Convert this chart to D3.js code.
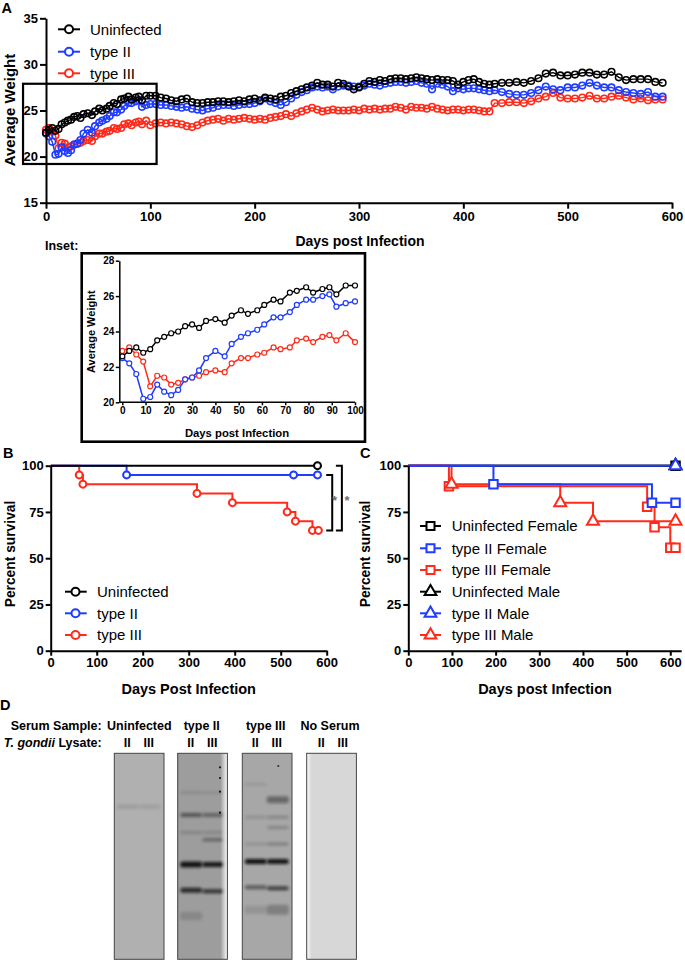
<!DOCTYPE html>
<html><head><meta charset="utf-8">
<script src="https://cdn.jsdelivr.net/npm/d3@7"></script>
<style>body{margin:0;background:#fff} svg text{font-family:"Liberation Sans",Arial,sans-serif}</style>
</head><body>
<svg id="c" width="685" height="962"></svg>
<script>
// ---------- DATA ----------
const weightDays = [0,3,6,9,12,15,18,21,24,27,30,33,36,40,44,47,51,54,58,61,65,68,72,75,79,82,86,89,92,96,100,
105,110,115,120,125,130,135,140,145,150,155,160,165,170,175,180,185,190,195,200,
205,210,215,220,225,230,235,240,245,250,255,260,265,270,275,280,285,290,295,300,
305,310,315,320,325,330,335,340,345,350,355,360,365,370,375,380,385,390,395,400,
405,410,415,420,425,430,
437,444,451,458,465,472,479,486,493,500,507,514,521,528,535,542,549,556,563,570,577,584,591];
const uninfectedWeight = [22.6,22.9,23.1,22.8,23.0,23.5,23.7,23.9,24.0,24.3,24.4,24.2,24.6,24.7,24.5,24.9,25.2,25.0,25.2,25.5,25.8,25.7,26.2,26.3,26.5,26.2,26.4,26.5,26.1,26.6,26.6,
26.6,26.4,26.3,26.1,26.0,26.2,26.3,25.9,25.8,25.8,25.9,25.9,26.0,26.0,25.9,26.0,26.1,26.0,26.2,26.3,
26.1,26.4,26.3,26.2,26.5,26.6,26.9,27.1,27.3,27.5,27.7,28.0,27.8,27.8,27.6,28.0,27.9,27.6,27.3,27.5,
27.9,28.2,28.1,28.3,28.2,28.4,28.5,28.5,28.4,28.5,28.6,28.5,28.4,28.3,28.4,28.3,28.3,28.2,27.8,28.1,
28.3,28.4,28.1,27.9,27.8,27.9,
28.0,28.0,28.1,28.0,28.2,28.5,29.0,29.1,28.8,28.8,28.9,29.1,29.1,28.9,28.9,29.2,28.6,28.3,28.4,28.4,28.4,28.1,28.0];
const typeIIWeight = [22.5,22.2,21.6,20.2,20.3,21.0,20.6,20.4,20.7,21.3,21.4,21.8,22.5,22.9,22.6,23.3,23.7,23.9,24.1,24.4,24.8,24.8,25.1,25.5,25.8,25.8,26.0,26.1,25.4,25.6,25.7,
25.7,25.6,25.6,25.5,25.4,25.3,25.4,25.2,25.1,25.0,25.2,25.3,25.5,25.6,25.6,25.5,25.6,25.7,25.7,25.8,
26.0,26.3,26.0,25.8,25.6,25.9,26.3,26.7,27.0,27.2,27.5,27.6,27.5,27.6,27.3,27.6,27.7,27.7,27.6,27.6,
27.7,27.9,27.8,27.7,27.9,28.0,28.1,28.1,28.0,28.1,28.2,28.0,27.9,27.3,27.9,27.8,27.6,27.1,27.4,27.3,
27.4,27.4,27.3,27.2,27.1,27.2,
27.0,26.8,26.7,26.7,26.9,27.2,27.6,27.3,27.2,27.5,27.5,27.7,28.0,27.7,27.5,27.5,27.2,27.0,26.9,26.8,27.0,26.5,26.5];
const typeIIIWeight = [22.9,23.1,22.7,22.3,20.9,21.5,21.4,21.0,21.1,21.3,21.4,21.5,21.7,21.8,21.7,22.2,22.5,22.5,22.7,22.8,23.1,23.0,23.1,23.5,23.6,23.4,23.7,23.8,23.5,23.9,23.4,
23.6,23.7,23.6,23.7,23.6,23.5,23.3,23.2,23.4,23.7,23.9,24.0,24.1,23.9,24.1,24.0,24.1,24.2,24.1,24.0,
24.1,24.0,24.2,24.3,24.4,24.6,24.4,24.7,24.9,25.1,25.3,25.1,24.9,25.0,25.1,25.0,25.0,25.0,25.1,25.0,
25.2,25.1,25.2,25.1,25.2,25.2,25.4,25.3,25.1,25.4,25.3,25.3,25.2,25.4,25.2,25.1,25.0,25.1,25.1,25.0,
25.1,25.1,25.0,24.9,24.9,25.8,
25.8,25.9,25.9,25.8,26.0,26.3,26.5,26.9,26.4,26.3,26.3,26.4,26.6,26.3,26.3,26.5,26.6,26.4,26.2,26.3,26.1,26.2,26.2];

const weightSeriesNames = ["Uninfected","type II","type III"];
const mainYTicks = [15,20,25,30,35];
const mainXTicks = [0,100,200,300,400,500,600];
const insetYTicks = [20,22,24,26,28];
const insetXTicks = [0,10,20,30,40,50,60,70,80,90,100];
const insetBoxDays = [-22,106];
const insetBoxWeights = [19.2,27.9];

// Survival, panel B: [day, percent]
const survUninfB = [[0,100],[580,100]];
const survTypeIIB = [[0,100],[165,95],[580,95]];
const survTypeIIIB = [[0,100],[62,95],[70,90],[318,85],[395,80],[514,75],[532,70],[569,65],[582,65]];
const markUninfB = [[580,100]];
const markTypeIIB = [[165,95],[528,95],[580,95]];
const markTypeIIIB = [[62,95],[70,90],[318,85],[395,80],[514,75],[532,70],[569,65],[582,65]];

// Survival, panel C
const survUninfF = [[0,100],[612,100]];
const survTypeIIF = [[0,100],[195,90],[558,80],[612,80]];
const survTypeIIIF = [[0,100],[93,88.9],[547,77.8],[564,66.7],[600,55.6],[612,55.6]];
const survUninfM = [[0,100],[612,100]];
const survTypeIIM = [[0,100],[612,100]];
const survTypeIIIM = [[0,100],[99,90],[348,80],[423,70],[612,70]];
const survNamesC = ["Uninfected Female","type II Female","type III Female","Uninfected Male","type II Male","type III Male"];
const survTicksY = [0,25,50,75,100];
const survTicksX = [0,100,200,300,400,500,600];

// Western blot panel D
const serumSamples = ["Uninfected","type II","type III","No Serum"];
const lysateLanes = ["II","III"];
// bands per blot: [fraction down blot, lane(0=II,1=III), darkness, thickness]
const bandsBlot = [
  [[0.26,0,0.12,4],[0.26,1,0.1,4]],
  [[0.19,0,0.12,3],[0.19,1,0.1,3],[0.30,0,0.5,4],[0.30,1,0.4,4],[0.385,0,0.18,3],[0.385,1,0.16,3],[0.42,1,0.42,3],
   [0.54,0,0.95,6],[0.54,1,0.92,5],[0.665,0,0.8,5],[0.67,1,0.75,4],[0.79,0,0.15,8]],
  [[0.15,0,0.1,3],[0.225,1,0.4,7],[0.31,0,0.15,3],[0.31,1,0.22,3],[0.36,1,0.22,3],[0.44,0,0.15,3],[0.44,1,0.28,3],
   [0.525,0,0.97,5],[0.525,1,0.95,5],[0.65,0,0.5,4],[0.655,1,0.68,4],[0.76,0,0.12,8],[0.76,1,0.25,10]],
  []
];
const blotBg = ["#b0b0b0","#9d9d9d","#a7a7a7","#d7d7d7"];

// ---------- DRAW ----------
const svg = d3.select("#c");
const FONT = '"Liberation Sans",Arial,sans-serif';
const colors = {"Uninfected":"#000","type II":"#1f3cff","type III":"#ff2a1a"};
const colC = ["#000","#1f3cff","#ff2a1a","#000","#1f3cff","#ff2a1a"];

function styleAxis(g, sw, fs){
  g.attr("font-family",FONT).attr("font-size",fs).attr("font-weight","bold");
  g.select(".domain").attr("stroke-width",sw).attr("stroke","#000");
  g.selectAll(".tick line").attr("stroke-width",sw).attr("stroke","#000");
  g.selectAll(".tick text").attr("fill","#000");
}
function txt(x,y,s,opt={}){
  const t = svg.append("text").attr("x",x).attr("y",y).text(s)
    .attr("font-size",opt.size||12).attr("font-weight",opt.weight||"bold")
    .attr("text-anchor",opt.anchor||"start").attr("fill",opt.fill||"#000");
  if(opt.rotate) t.attr("transform",`rotate(-90,${x},${y})`);
  return t;
}

// ---- Panel A main ----
txt(1.5,12.5,"A",{size:14.5});
const xA = d3.scaleLinear().domain([0,600]).range([46,672]);
const yA = d3.scaleLinear().domain([15,35]).range([202.7,18.3]);
const series = [
  {name:"type III", vals:typeIIIWeight},
  {name:"type II", vals:typeIIWeight},
  {name:"Uninfected", vals:uninfectedWeight}
];
const gA = svg.append("g");
series.forEach(s=>{
  const pts = weightDays.map((d,i)=>[d,s.vals[i]]);
  gA.append("path").attr("d",d3.line().x(d=>xA(d[0])).y(d=>yA(d[1]))(pts))
    .attr("fill","none").attr("stroke",colors[s.name]).attr("stroke-width",1.4);
  gA.selectAll(null).data(pts).join("circle")
    .attr("cx",d=>xA(d[0])).attr("cy",d=>yA(d[1])).attr("r",3.3)
    .attr("fill","none").attr("stroke",colors[s.name]).attr("stroke-width",1.6);
});
const axYA = svg.append("g").attr("transform","translate(46,0)")
  .call(d3.axisLeft(yA).tickValues(mainYTicks).tickSize(6).tickSizeOuter(0).tickPadding(2));
styleAxis(axYA,2,13);
const axXA = svg.append("g").attr("transform","translate(0,202.7)")
  .call(d3.axisBottom(xA).tickValues(mainXTicks).tickSize(6).tickSizeOuter(0).tickPadding(3));
styleAxis(axXA,2,13);
txt(10,110,"Average Weight",{size:15,anchor:"middle",rotate:true}).attr("dy","0.35em");
txt(360,246,"Days post Infection",{size:14,anchor:"middle"});
// inset indicator box
svg.append("rect").attr("x",xA(insetBoxDays[0])).attr("y",yA(insetBoxWeights[1]))
  .attr("width",xA(insetBoxDays[1])-xA(insetBoxDays[0])).attr("height",yA(insetBoxWeights[0])-yA(insetBoxWeights[1]))
  .attr("fill","none").attr("stroke","#000").attr("stroke-width",2.2);
// legend A
weightSeriesNames.forEach((n,i)=>{
  const y = [29.3,51.7,73.3][i];
  svg.append("line").attr("x1",58).attr("x2",80).attr("y1",y).attr("y2",y).attr("stroke",colors[n]).attr("stroke-width",2);
  svg.append("circle").attr("cx",69).attr("cy",y).attr("r",4).attr("fill","#fff").attr("stroke",colors[n]).attr("stroke-width",2);
  txt(90,y,n,{size:15,weight:"normal"}).attr("dy","0.35em");
});

// ---- Inset ----
txt(45,250,"Inset:",{size:12.5});
svg.append("rect").attr("x",81.7).attr("y",253.3).attr("width",283.3).attr("height",188.4)
  .attr("fill","none").attr("stroke","#000").attr("stroke-width",2.6);
const xI = d3.scaleLinear().domain([0,100]).range([122.3,355]);
const yI = d3.scaleLinear().domain([20,28]).range([402.3,260.7]);
const gI = svg.append("g");
series.forEach(s=>{
  const pts = weightDays.map((d,i)=>[d,s.vals[i]]).filter(p=>p[0]<=100);
  gI.append("path").attr("d",d3.line().x(d=>xI(d[0])).y(d=>yI(d[1]))(pts))
    .attr("fill","none").attr("stroke",colors[s.name]).attr("stroke-width",1.5);
  gI.selectAll(null).data(pts).join("circle")
    .attr("cx",d=>xI(d[0])).attr("cy",d=>yI(d[1])).attr("r",2.5)
    .attr("fill","#fff").attr("stroke",colors[s.name]).attr("stroke-width",1.2);
});
const axYI = svg.append("g").attr("transform","translate(119.3,0)")
  .call(d3.axisLeft(yI).tickValues(insetYTicks).tickSize(3.5).tickSizeOuter(0).tickPadding(1.5));
styleAxis(axYI,1.5,10);
const axXI = svg.append("g").attr("transform","translate(0,402.3)")
  .call(d3.axisBottom(xI).tickValues(insetXTicks).tickSize(3).tickSizeOuter(0).tickPadding(2));
styleAxis(axXI,1.5,10);
axXI.select(".domain").remove();
svg.append("line").attr("x1",119.3).attr("x2",xI(100)).attr("y1",402.3).attr("y2",402.3).attr("stroke","#000").attr("stroke-width",1.5);
txt(91.5,331.7,"Average Weight",{size:11,anchor:"middle",rotate:true}).attr("dy","0.35em");
txt(237,436.5,"Days post Infection",{size:11.3,anchor:"middle"});

// ---- Survival helper ----
function kmPanel(xS,yS,list){
  const g = svg.append("g");
  list.forEach(s=>{
    g.append("path").attr("d",d3.line().curve(d3.curveStepAfter).x(d=>xS(d[0])).y(d=>yS(d[1]))(s.steps))
      .attr("fill","none").attr("stroke",s.color).attr("stroke-width",2);
  });
  list.forEach(s=>{
    const sym = d3.symbol().type(s.shape).size(s.size);
    g.selectAll(null).data(s.marks).join("path")
      .attr("d",sym).attr("transform",d=>`translate(${xS(d[0])},${yS(d[1])})`)
      .attr("fill","#fff").attr("stroke",s.color).attr("stroke-width",2);
  });
  const ay = svg.append("g").attr("transform",`translate(${xS(0)},0)`)
    .call(d3.axisLeft(yS).tickValues(survTicksY).tickSize(5).tickSizeOuter(0).tickPadding(2));
  styleAxis(ay,2,13);
  const ax = svg.append("g").attr("transform",`translate(0,${yS(0)})`)
    .call(d3.axisBottom(xS).tickValues(survTicksX).tickSize(5).tickSizeOuter(0).tickPadding(2));
  styleAxis(ax,2,13);
}

// ---- Panel B ----
txt(3,458.3,"B",{size:14.5});
const xB = d3.scaleLinear().domain([0,600]).range([50.7,326.7]);
const yB = d3.scaleLinear().domain([0,100]).range([650.7,465.7]);
kmPanel(xB,yB,[
  {steps:survTypeIIIB, marks:markTypeIIIB, color:colors["type III"], shape:d3.symbolCircle, size:38},
  {steps:survTypeIIB, marks:markTypeIIB, color:colors["type II"], shape:d3.symbolCircle, size:38},
  {steps:survUninfB, marks:markUninfB, color:"#000", shape:d3.symbolCircle, size:38}
]);
// significance brackets
[[95,65,612],[100,65,633]].forEach(b=>{
  const xr = xB(b[2]);
  svg.append("path").attr("d",`M${xr-6},${yB(b[0])}H${xr}V${yB(b[1])}H${xr-6}`)
    .attr("fill","none").attr("stroke","#000").attr("stroke-width",2);
});
txt(334.5,505,"*",{size:13,weight:"bold",fill:"#6e6e6e",anchor:"middle"});
txt(347,505,"*",{size:13,weight:"bold",fill:"#6e6e6e",anchor:"middle"});
txt(10,554,"Percent survival",{size:13.8,anchor:"middle",rotate:true}).attr("dy","0.35em");
txt(188.7,694,"Days Post Infection",{size:14.5,anchor:"middle"});
weightSeriesNames.forEach((n,i)=>{
  const y = [591.7,613.3,635][i];
  svg.append("line").attr("x1",65).attr("x2",86.7).attr("y1",y).attr("y2",y).attr("stroke",colors[n]).attr("stroke-width",2);
  svg.append("circle").attr("cx",75.5).attr("cy",y).attr("r",4).attr("fill","#fff").attr("stroke",colors[n]).attr("stroke-width",2);
  txt(97,y,n,{size:15,weight:"normal"}).attr("dy","0.35em");
});

// ---- Panel C ----
txt(360,458.3,"C",{size:14.5});
const xC = d3.scaleLinear().domain([0,625]).range([408.3,681.2]);
const yC = d3.scaleLinear().domain([0,100]).range([650.7,465.7]);
const lastMark = s => s.slice(1);
const shapesC = [d3.symbolSquare,d3.symbolSquare,d3.symbolSquare,d3.symbolTriangle,d3.symbolTriangle,d3.symbolTriangle];
const stepsC = [survUninfF,survTypeIIF,survTypeIIIF,survUninfM,survTypeIIM,survTypeIIIM];
const orderC = [0,3,2,5,1,4];
kmPanel(xC,yC,orderC.map(i=>({steps:stepsC[i], marks:lastMark(stepsC[i]), color:colC[i], shape:shapesC[i], size: i<3?72:62})));
txt(365,554,"Percent survival",{size:13.8,anchor:"middle",rotate:true}).attr("dy","0.35em");
txt(545,694,"Days post Infection",{size:14.5,anchor:"middle"});
survNamesC.forEach((n,i)=>{
  const y = [526,548.3,570,591.7,613.3,635][i];
  svg.append("line").attr("x1",420).attr("x2",441).attr("y1",y).attr("y2",y).attr("stroke",colC[i]).attr("stroke-width",2);
  svg.append("path").attr("d",d3.symbol().type(shapesC[i]).size(i<3?64:60)())
    .attr("transform",`translate(430.5,${y})`).attr("fill","#fff").attr("stroke",colC[i]).attr("stroke-width",2);
  txt(451.7,y,n,{size:15,weight:"normal"}).attr("dy","0.35em");
});

// ---- Panel D ----
txt(0,710,"D",{size:14.5});
txt(101.7,729.5,"Serum Sample:",{size:12.5,anchor:"end"});
const lab = svg.append("text").attr("x",101.7).attr("y",747).attr("text-anchor","end")
  .attr("font-size",12.5).attr("font-weight","bold");
lab.append("tspan").attr("font-style","italic").text("T. gondii");
lab.append("tspan").text(" Lysate:");
const serumCenters = [139.3,201.7,265.7,330];
const blotLefts = [114.3,177.7,242.3,306.7];
const blotW = 49.7, blotTop = 753.3, blotH = 206;
const defs = svg.append("defs");
defs.append("filter").attr("id","blur").attr("x","-40%").attr("y","-300%").attr("width","180%").attr("height","700%")
  .append("feGaussianBlur").attr("stdDeviation","1.6 1.5");
const gr1 = defs.append("linearGradient").attr("id","wr").attr("x1",0).attr("x2",1);
gr1.append("stop").attr("offset",0).attr("stop-color","#fff").attr("stop-opacity",0);
gr1.append("stop").attr("offset",1).attr("stop-color","#fff").attr("stop-opacity",0.95);
const gr2 = defs.append("linearGradient").attr("id","wl").attr("x1",0).attr("x2",1);
gr2.append("stop").attr("offset",0).attr("stop-color","#fff").attr("stop-opacity",0.9);
gr2.append("stop").attr("offset",1).attr("stop-color","#fff").attr("stop-opacity",0);
serumSamples.forEach((s,i)=>{
  txt(serumCenters[i],729.5,s,{size:12.5,anchor:"middle"});
  const x0 = blotLefts[i];
  lysateLanes.forEach((l,j)=>{
    txt(x0 + (j===0?13:34.5) + (i===3?1.5:0),747,l,{size:12.5,anchor:"middle"});
  });
  svg.append("rect").attr("x",x0).attr("y",blotTop).attr("width",blotW).attr("height",blotH)
    .attr("fill",blotBg[i]);
  bandsBlot[i].forEach(b=>{
    const cx = x0 + (b[1]===0?13.5:35.5);
    svg.append("rect").attr("x",cx-11).attr("width",22).attr("y",blotTop + b[0]*blotH - b[3]/2).attr("height",b[3])
      .attr("rx",2.5).attr("fill","#111").attr("opacity",b[2]).attr("filter","url(#blur)");
  });
  if(i===1){
    svg.append("rect").attr("x",x0+blotW-7).attr("y",blotTop).attr("width",7).attr("height",blotH).attr("fill","url(#wr)");
    [767.3,778,791.7,812.7].forEach(y=>svg.append("circle").attr("cx",220).attr("cy",y).attr("r",1.1).attr("fill","#111"));
  }
  if(i===2) svg.append("circle").attr("cx",278.3).attr("cy",766).attr("r",1.1).attr("fill","#333");
  if(i===3) svg.append("rect").attr("x",x0).attr("y",blotTop).attr("width",5).attr("height",blotH).attr("fill","url(#wl)");
  svg.append("rect").attr("x",x0).attr("y",blotTop).attr("width",blotW).attr("height",blotH)
    .attr("fill","none").attr("stroke","#444").attr("stroke-width",1);
});
</script>
</body></html>
